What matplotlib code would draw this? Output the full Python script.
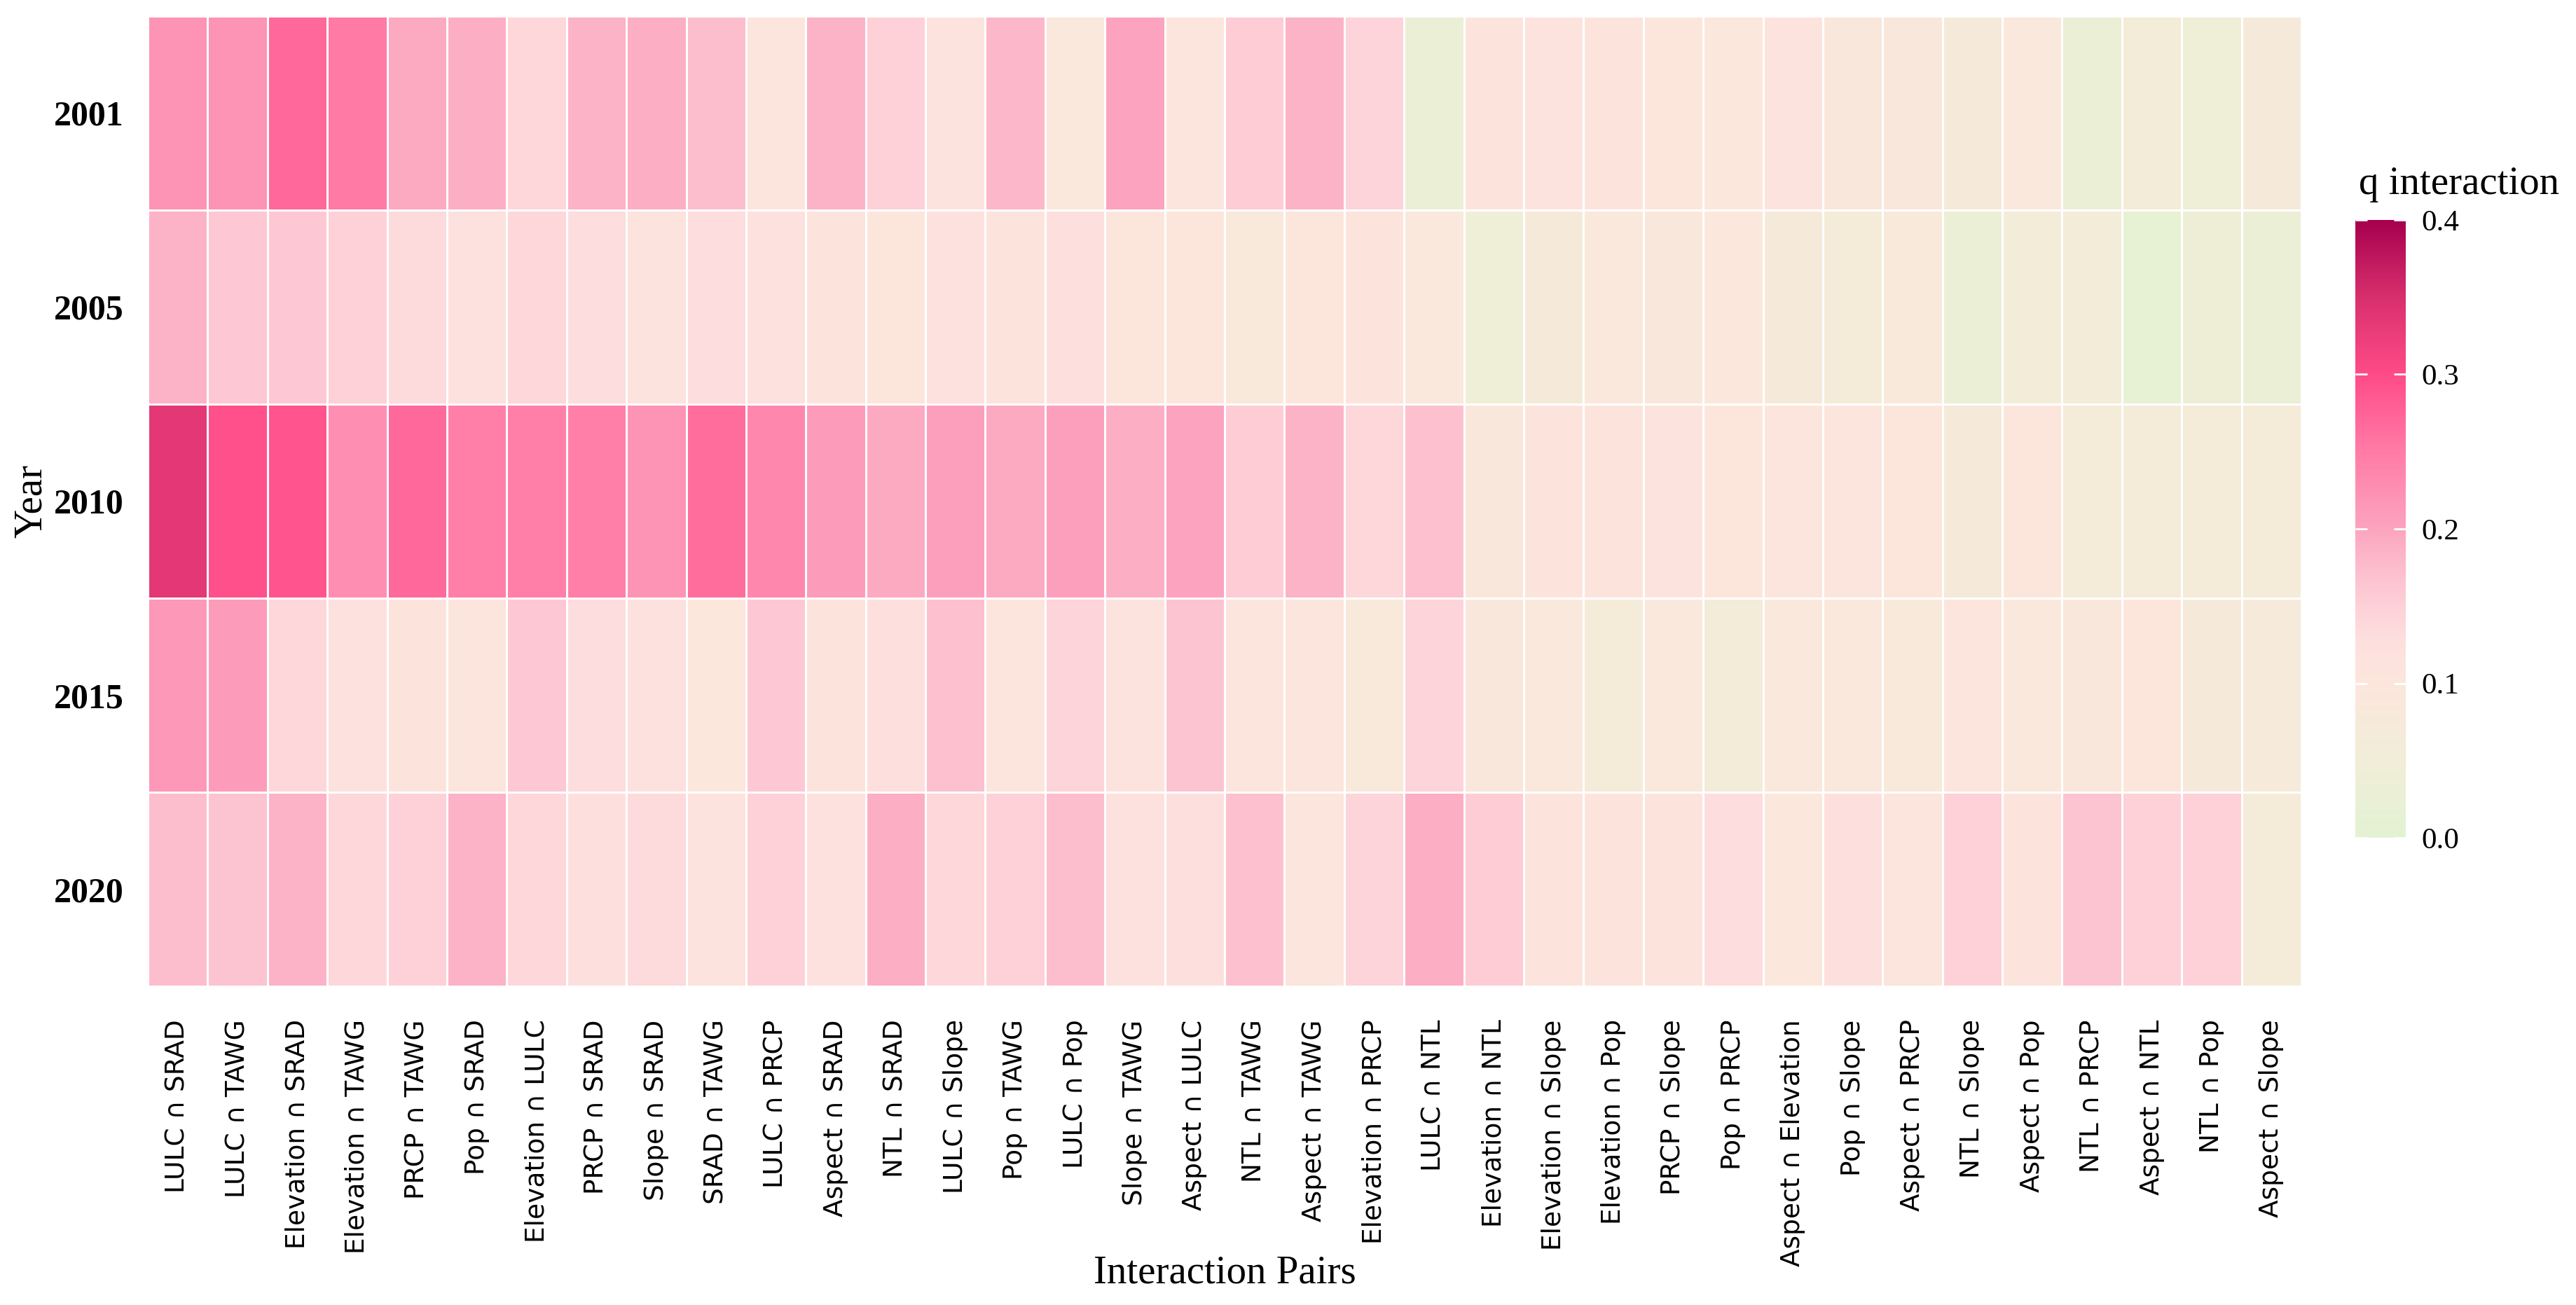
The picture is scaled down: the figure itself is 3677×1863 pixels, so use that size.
import matplotlib.pyplot as plt
import numpy as np
from matplotlib.colors import LinearSegmentedColormap

plt.rcParams['font.family'] = ['DejaVu Sans']

years = ["2001", "2005", "2010", "2015", "2020"]
pairs = ["LULC ∩ SRAD", "LULC ∩ TAWG", "Elevation ∩ SRAD", "Elevation ∩ TAWG",
         "PRCP ∩ TAWG", "Pop ∩ SRAD", "Elevation ∩ LULC", "PRCP ∩ SRAD",
         "Slope ∩ SRAD", "SRAD ∩ TAWG", "LULC ∩ PRCP", "Aspect ∩ SRAD",
         "NTL ∩ SRAD", "LULC ∩ Slope", "Pop ∩ TAWG", "LULC ∩ Pop",
         "Slope ∩ TAWG", "Aspect ∩ LULC", "NTL ∩ TAWG", "Aspect ∩ TAWG",
         "Elevation ∩ PRCP", "LULC ∩ NTL", "Elevation ∩ NTL", "Elevation ∩ Slope",
         "Elevation ∩ Pop", "PRCP ∩ Slope", "Pop ∩ PRCP", "Aspect ∩ Elevation",
         "Pop ∩ Slope", "Aspect ∩ PRCP", "NTL ∩ Slope", "Aspect ∩ Pop",
         "NTL ∩ PRCP", "Aspect ∩ NTL", "NTL ∩ Pop", "Aspect ∩ Slope"]

q_2001 = [0.22, 0.22, 0.27, 0.25, 0.195, 0.19, 0.14, 0.185, 0.19, 0.175, 0.105, 0.185,
          0.15, 0.115, 0.18, 0.085, 0.20, 0.105, 0.155, 0.185, 0.145, 0.03, 0.11, 0.115,
          0.11, 0.10, 0.095, 0.115, 0.09, 0.09, 0.07, 0.085, 0.025, 0.055, 0.045, 0.07]
q_2005 = [0.185, 0.16, 0.16, 0.15, 0.135, 0.12, 0.14, 0.13, 0.115, 0.13, 0.12, 0.11,
          0.10, 0.12, 0.11, 0.125, 0.10, 0.10, 0.08, 0.10, 0.11, 0.085, 0.045, 0.07,
          0.085, 0.09, 0.095, 0.07, 0.065, 0.08, 0.03, 0.06, 0.06, 0.015, 0.04, 0.025]
q_2010 = [0.335, 0.295, 0.29, 0.225, 0.27, 0.245, 0.245, 0.245, 0.22, 0.265, 0.235, 0.21,
          0.195, 0.205, 0.195, 0.205, 0.19, 0.20, 0.155, 0.185, 0.14, 0.17, 0.09, 0.11,
          0.11, 0.115, 0.10, 0.105, 0.105, 0.10, 0.07, 0.10, 0.065, 0.065, 0.065, 0.065]
q_2015 = [0.215, 0.21, 0.14, 0.12, 0.11, 0.105, 0.16, 0.13, 0.12, 0.095, 0.16, 0.11,
          0.125, 0.17, 0.105, 0.145, 0.115, 0.165, 0.105, 0.105, 0.08, 0.145, 0.09, 0.085,
          0.065, 0.085, 0.055, 0.085, 0.085, 0.08, 0.105, 0.085, 0.09, 0.10, 0.07, 0.075]
q_2020 = [0.175, 0.165, 0.185, 0.14, 0.15, 0.185, 0.14, 0.125, 0.135, 0.115, 0.15, 0.12,
          0.19, 0.14, 0.15, 0.175, 0.12, 0.125, 0.17, 0.105, 0.145, 0.19, 0.155, 0.11,
          0.11, 0.11, 0.13, 0.095, 0.125, 0.105, 0.15, 0.11, 0.165, 0.15, 0.15, 0.065]

q = np.array([q_2001, q_2005, q_2010, q_2015, q_2020])

cmap = LinearSegmentedColormap.from_list("q_int", [
    (0.0, "#e3f2d3"), (0.125, "#f1edd8"), (0.25, "#fce6dc"), (0.3125, "#fde0de"),
    (0.375, "#fdd0d7"), (0.4375, "#fcbccd"), (0.5, "#fca4bf"), (0.625, "#ff7ba6"),
    (0.75, "#ff4b88"), (0.875, "#d8306d"), (1.0, "#a6004e")])

fig = plt.figure(figsize=(36.77, 18.63), dpi=100)
ax = fig.add_axes([0.0574, 0.2442, 0.836, 0.7435])

mesh = ax.pcolormesh(q, cmap=cmap, vmin=0, vmax=0.4, edgecolors="white", linewidth=2)
ax.set_xlim(0, len(pairs))
ax.set_ylim(len(years), 0)
ax.set_xticks(np.arange(len(pairs)) + 0.5)
ax.set_xticklabels(pairs, rotation=90, fontsize=27, va="top", ha="center")
ax.set_yticks(np.arange(len(years)) + 0.5)
ax.set_yticklabels(years, fontsize=36, fontweight="bold", family="Liberation Serif")
ax.tick_params(length=0)
ax.tick_params(axis="x", pad=34)
ax.tick_params(axis="y", pad=25)
for s in ax.spines.values():
    s.set_visible(False)

ax.set_xlabel("Interaction Pairs", fontsize=41, family="Liberation Serif", labelpad=-12)
ax.set_ylabel("Year", fontsize=41, family="Liberation Serif", labelpad=4)

cax = fig.add_axes([0.9143, 0.358, 0.0196, 0.4735])
cb = fig.colorbar(mesh, cax=cax)
cb.outline.set_visible(False)
cb.set_ticks([0, 0.1, 0.2, 0.3, 0.4])
cb.set_ticklabels(["0.0", "0.1", "0.2", "0.3", "0.4"])
cax.tick_params(direction="in", color="white", length=12, width=2,
                left=True, right=True, labelsize=31, pad=16)
for t in cax.get_yticklabels():
    t.set_family("Liberation Serif")
fig.text(0.9157, 0.859, "q interaction", fontsize=41, family="Liberation Serif",
         ha="left", va="center")

fig.savefig("out.png", dpi=100)
